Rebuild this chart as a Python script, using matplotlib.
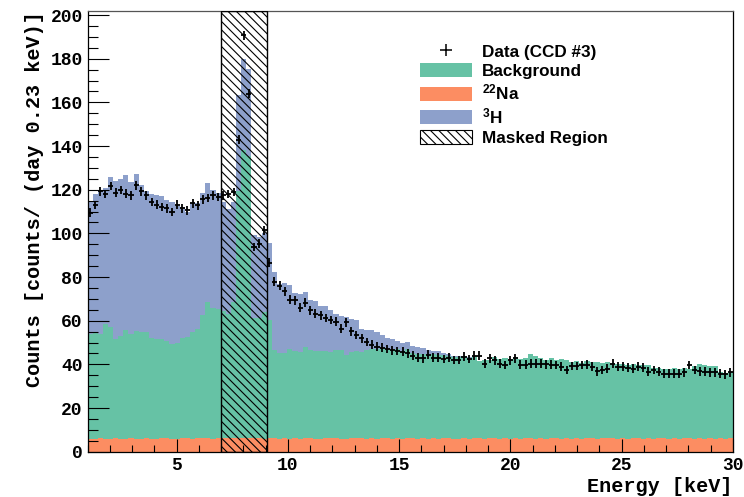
import numpy as np
import matplotlib
matplotlib.use("Agg")
import matplotlib.pyplot as plt
from matplotlib.patches import Patch
from matplotlib.lines import Line2D
from matplotlib.ticker import MultipleLocator

# ---------------- data ----------------
e_min, e_max, n_bins = 1.0, 30.0, 126
mask_first_bin, mask_last_bin = 26, 34   # masked bins (inclusive)

data = [109.5, 113, 119.3, 118, 121.7, 118.7, 119.9, 118.2, 117.5, 122,
        119.3, 117.5, 114.4, 113.2, 112.1, 111.4, 109.8, 113.2, 111.4, 110.6,
        113.7, 112.9, 115.6, 116.2, 117.5, 116.7,
        117.5, 118, 119, 143, 190.7, 164, 93.8, 95.3, 101.4,
        86.5, 77.8, 76, 73.5, 69.7, 69.4, 65.9, 68.3, 64.8, 63.3,
        62.5, 61.3, 60.3, 59.5, 56.4, 59.2, 55.2, 53.4, 51.9, 50.3,
        49.1, 48.1, 47.6, 47, 46.5, 46.1, 45.8, 45, 43.9, 43, 42.7, 44.5, 43,
        43, 42.5, 43, 42, 42, 43.5, 42.5, 44,
        43.9, 40.4, 42.7, 41.9, 40.4, 39.7, 41.9, 42.7, 39.9, 39.9,
        40.4, 40.4, 40.4, 40.1, 39.9, 39.7, 38.9, 37.4, 39.2, 39.2,
        39.7, 39.9, 38.9, 36.9, 37.4, 38.1, 40.4, 38.9, 38.9, 38.5,
        38.1, 38.9, 38.5, 36.6, 37.4, 36.6, 35.8, 35.8, 35.8, 35.8,
        36.3, 39.7, 37.4, 36.9, 36.6, 36.3, 36.3, 35.8, 35.4, 36.3]
data_err = 2.0

na22 = [5.6, 5.9, 6.1, 5.8, 6.0, 6.2, 5.9, 5.7, 6.1, 6.0, 5.8, 6.3, 6.0,
        5.9, 6.2, 6.1, 5.8, 6.0, 6.3, 6.1, 5.9, 6.2, 6.4, 6.1, 6.0, 6.3,
        6.4, 6.2, 6.5, 6.3, 6.1, 6.4, 6.2, 6.3, 6.0, 6.2,
        6.1, 5.9, 6.3, 6.0, 6.2, 5.8, 6.1, 6.4, 6.0, 5.9, 6.2, 6.1, 6.3,
        5.8, 6.0, 6.2, 6.4, 6.1, 5.9, 6.2, 6.0, 6.3, 6.1, 5.8, 6.2, 6.0,
        6.4, 6.1, 5.9, 6.3, 6.0, 6.2, 5.9, 6.1, 6.3, 6.0, 5.8,
        6.2, 6.0, 6.3, 6.1, 5.9, 6.2, 6.4, 6.0, 6.1, 5.8, 6.2, 6.0, 6.3,
        6.1, 5.9, 6.2, 6.0, 6.4, 6.1, 5.9, 6.3, 6.0, 6.2, 5.8, 6.1, 6.3,
        6.0, 6.2, 6.4, 6.1, 5.9, 6.2, 6.0, 6.3, 6.1, 5.8, 6.2, 6.0, 6.4,
        6.1, 5.9, 6.3, 6.0, 6.2, 6.1, 5.9, 6.3, 6.0, 6.2, 5.9, 6.1, 6.0, 6.2]

background = [48.5, 48.5, 48, 52.5, 51, 45.5, 47, 50, 48, 49.5, 49, 48.5, 46,
              45.5, 45.5, 44.5, 43.5, 44, 46, 46.5, 49, 50, 56, 62.5, 60, 59,
              58, 57, 62, 113, 132, 129, 55, 55, 58, 54,
              40.5, 39.5, 39, 41, 40, 40, 42, 40, 40, 40, 40, 39.5, 40.5, 41,
              38.5, 39.5, 39.5, 39.5, 40.5, 41, 41, 41.5, 41, 40.5, 41, 39.5,
              40.5, 39, 39, 38.5, 38, 38.5, 38.5, 38, 37.5, 37.5, 37.5,
              37.5, 37, 37.5, 35.5, 36, 36, 37, 36.5, 37, 36.5, 37, 36.5, 36.8,
              38.5, 38, 36.5, 36, 36.5, 36, 36.5, 35.5, 35, 35.5, 35, 35.5, 35,
              35.3, 34.5, 34.8, 34.5, 34.5, 33.8, 33.8, 34, 33.5, 34, 33.6,
              32.2, 32, 31.8, 32.2, 32, 31.8, 32.3, 31.8, 33.5, 33.8, 33.5,
              33.2, 33.4, 30.5, 30, 30.3]

tritium = [60.5, 63.5, 66, 62.5, 69, 72.5, 72, 71, 69.5, 71.5, 67.5, 64.5, 66,
           66, 65.5, 64.5, 65, 62.5, 60, 57, 59, 57.5, 56, 54.5, 54, 53,
           50, 48, 46, 44, 42, 40, 38, 37, 36, 35.6,
           35.5, 31.5, 32, 29.5, 26.6, 26.6, 25, 23, 22.8, 21, 20.5, 19.5,
           16.5, 15.5, 17.1, 15, 14.5, 10.5, 9.5, 8.5, 8, 5.5, 5, 5.5, 3.5,
           4.5, 3.5, 3.2, 3, 2.5, 2.5, 1.5, 1.5, 1, 1, 0.5, 0.5,
           0.3, 0.2, 0.1] + [0.0] * 50

for name, arr in [("data", data), ("na22", na22), ("background", background), ("tritium", tritium)]:
    assert len(arr) == n_bins, (name, len(arr))

# ---------------- style ----------------
C_BKG = "#66c2a5"
C_NA = "#fc8d62"
C_H3 = "#8da0cb"

plt.rcParams["hatch.linewidth"] = 0.8
plt.rcParams["mathtext.fontset"] = "custom"
plt.rcParams["mathtext.rm"] = "Liberation Sans:bold"
plt.rcParams["mathtext.default"] = "rm"

mono = dict(family="Liberation Mono", weight="bold")

edges = np.linspace(e_min, e_max, n_bins + 1)
centers = 0.5 * (edges[:-1] + edges[1:])
half_w = 0.5 * (edges[1] - edges[0])

na = np.array(na22, float)
bk = np.array(background, float)
h3 = np.array(tritium, float)

W, H = 744, 497
fig = plt.figure(figsize=(W / 100, H / 100), dpi=100)
ax = fig.add_axes([87.5 / W, 1 - 451.7 / H, (733 - 87.5) / W, (451.7 - 10.7) / H])

ax.stairs(na, edges, baseline=0, fill=True, color=C_NA, lw=0)
ax.stairs(na + bk, edges, baseline=na, fill=True, color=C_BKG, lw=0)
ax.stairs(na + bk + h3, edges, baseline=na + bk, fill=True, color=C_H3, lw=0)

ax.axvspan(edges[mask_first_bin], edges[mask_last_bin + 1], facecolor="none",
           edgecolor="black", hatch="\\\\\\\\", lw=1.0, zorder=3)

ax.errorbar(centers, data, xerr=half_w, yerr=data_err, fmt="none",
            ecolor="black", elinewidth=1.3, capsize=0, zorder=4)

ax.set_xlim(e_min, e_max)
ax.set_ylim(0, 202)
ax.xaxis.set_major_locator(MultipleLocator(5))
ax.xaxis.set_minor_locator(MultipleLocator(1))
ax.yaxis.set_major_locator(MultipleLocator(20))
ax.yaxis.set_minor_locator(MultipleLocator(5))
ax.tick_params(axis="both", which="both", direction="in", top=False, right=False,
               width=0.8, color="black")
ax.tick_params(axis="y", which="major", length=15, pad=3.5)
ax.tick_params(axis="y", which="minor", length=7.5)
ax.tick_params(axis="x", which="major", length=9.5, pad=4)
ax.tick_params(axis="x", which="minor", length=5)
for lab in ax.get_xticklabels() + ax.get_yticklabels():
    lab.set_fontfamily("Liberation Mono")
    lab.set_fontweight("bold")
    lab.set_fontsize(13)

for s in ax.spines.values():
    s.set_linewidth(0.9)
    s.set_color("black")
ax.spines["top"].set_color("#555555")

ax.set_xlabel("Energy [keV]", fontsize=14.5, loc="right", **mono)
ax.xaxis.set_label_coords(1.0, -(487 - 451.7) / 441.0)
ax.xaxis.label.set_va("center")
ax.set_ylabel("Counts [counts/ (day 0.23 keV)]", fontsize=14.5, loc="top", **mono)
ax.yaxis.set_label_coords(-(87.5 - 35) / 645.5, 1.0)
ax.yaxis.label.set_va("center")

handles = [
    Line2D([], [], marker="+", color="black", linestyle="none", markersize=8, markeredgewidth=1.1),
    Patch(facecolor=C_BKG, edgecolor="none"),
    Patch(facecolor=C_NA, edgecolor="none"),
    Patch(facecolor=C_H3, edgecolor="none"),
    Patch(facecolor="white", edgecolor="black", hatch="\\\\\\\\", lw=0.8),
]
labels = ["Data (CCD #3)", "Background", r"$^{22}$Na", r"$^{3}$H", "Masked Region"]
leg = fig.legend(handles, labels, loc="upper left",
                 bbox_to_anchor=(420 / W, 1 - 44 / H), bbox_transform=fig.transFigure,
                 frameon=False, borderpad=0, borderaxespad=0,
                 handlelength=3.05, handleheight=0.88, handletextpad=0.58,
                 labelspacing=0.21, prop=dict(family="Liberation Sans", weight="bold", size=12.3))

fig.savefig("out.png", dpi=100)
